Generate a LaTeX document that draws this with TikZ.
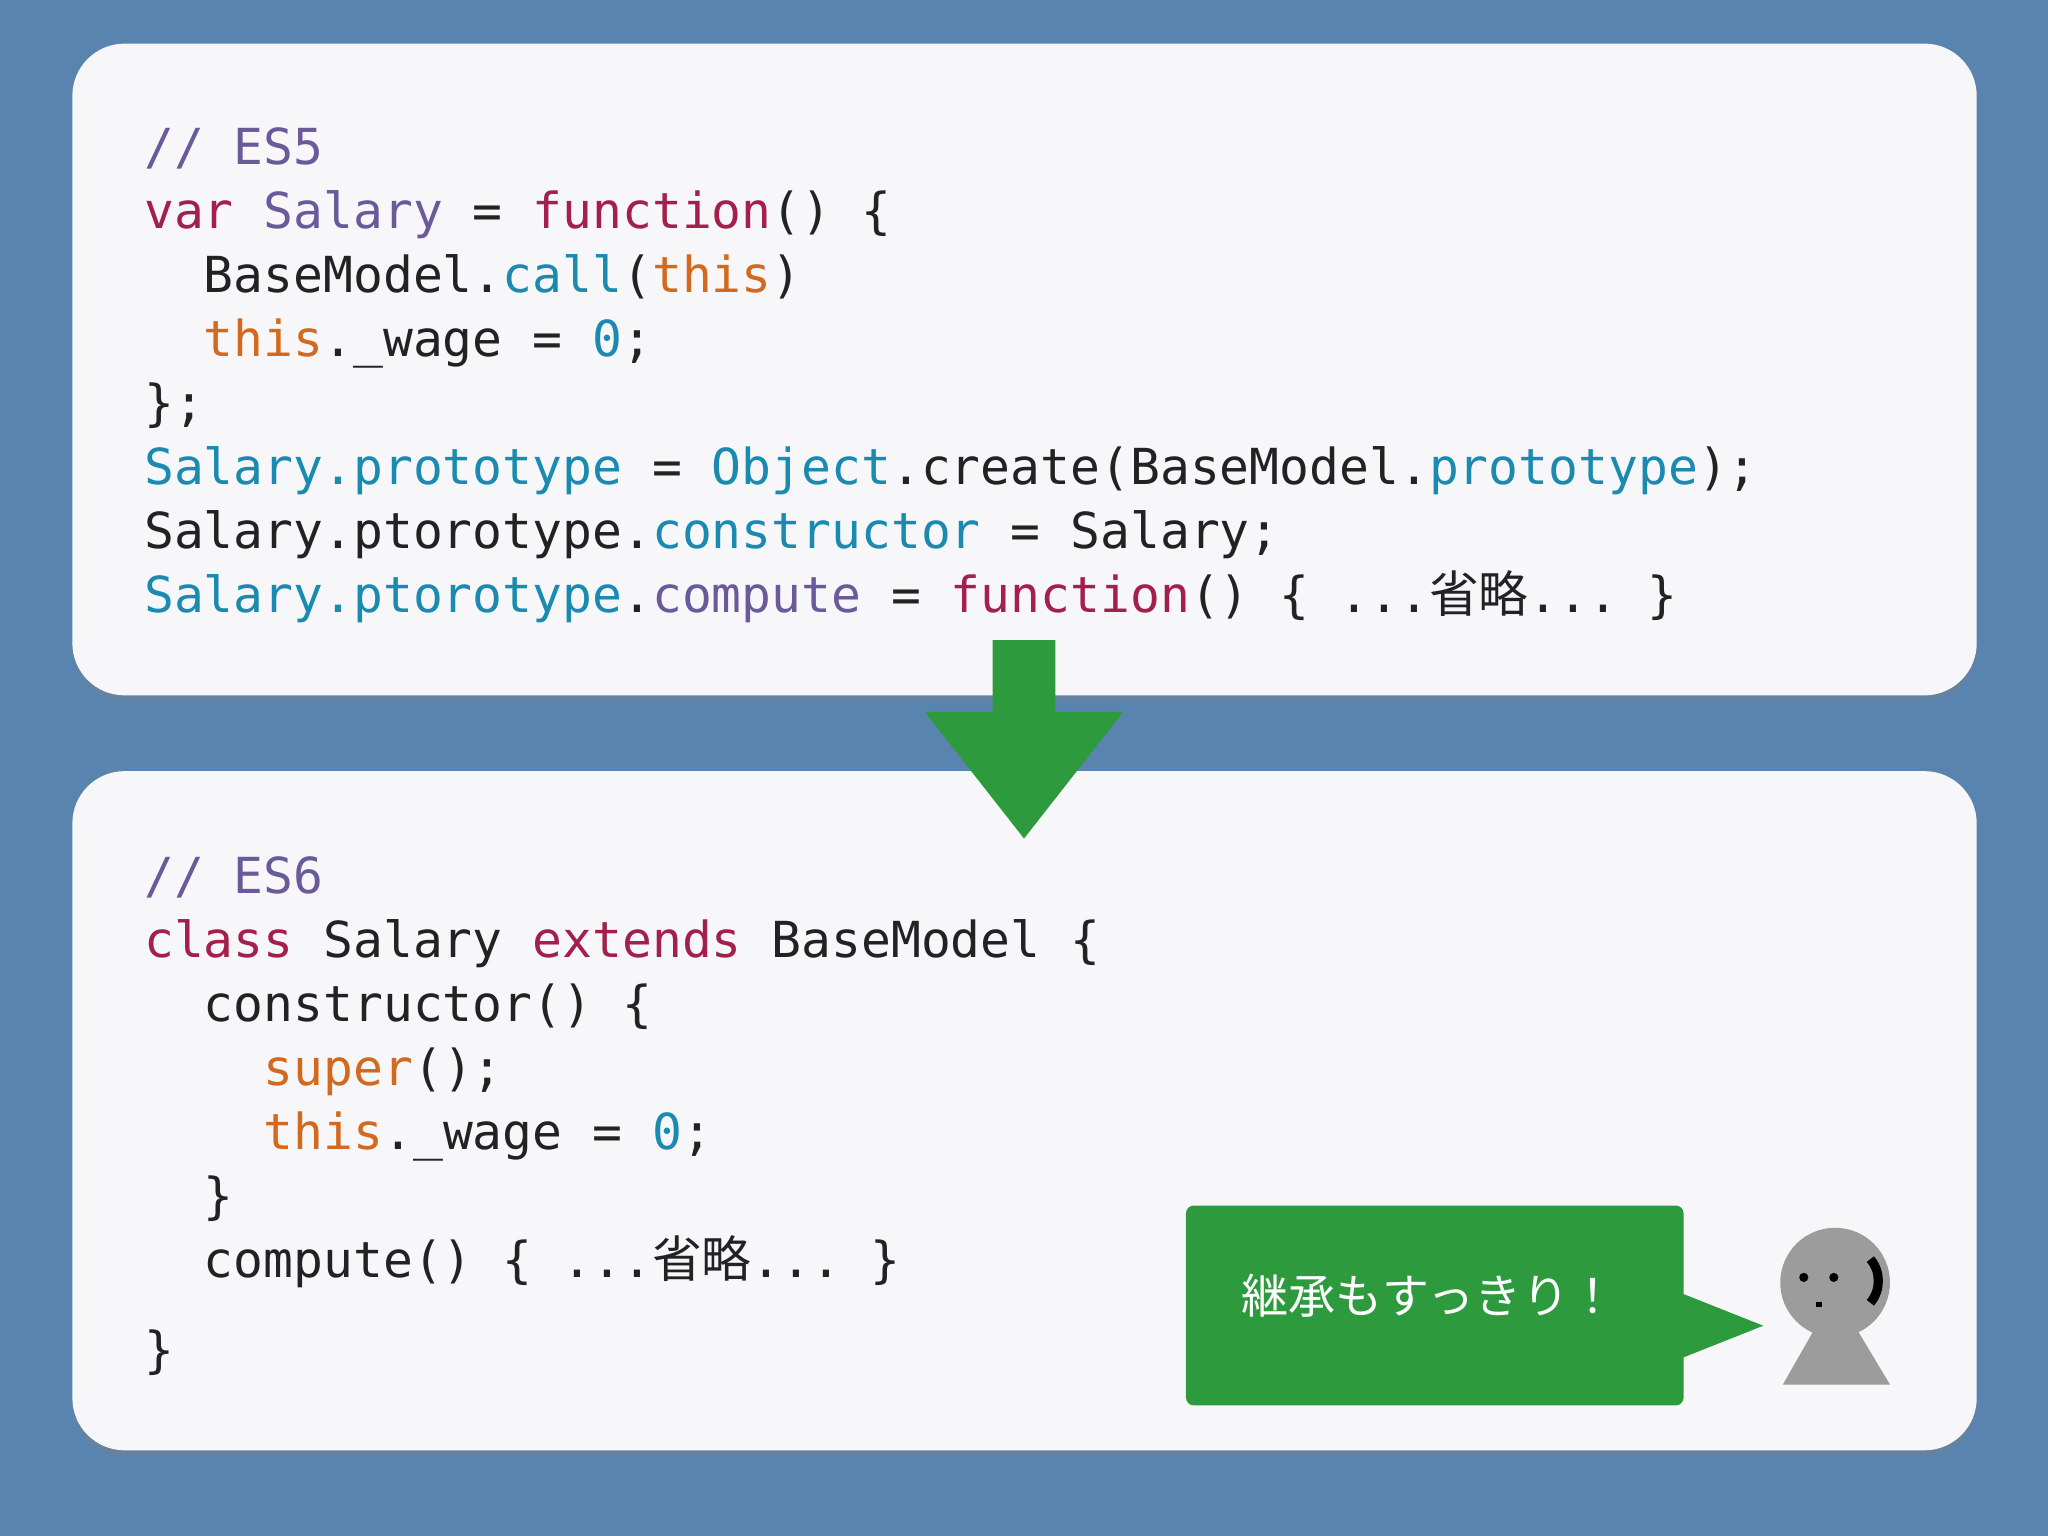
\documentclass[tikz,border=0pt]{standalone}
\usepackage{fontspec}
\setmonofont{DejaVu Sans Mono}
\newfontfamily\cjk{Noto Sans CJK JP}
\usetikzlibrary{shadows}
\definecolor{bg}{HTML}{5A84B0}
\definecolor{panel}{HTML}{F7F7F9}
\definecolor{cm}{HTML}{6A5A9A}
\definecolor{kw}{HTML}{A3204C}
\definecolor{bl}{HTML}{1A8AB0}
\definecolor{og}{HTML}{D2691E}
\definecolor{tx}{HTML}{222222}
\definecolor{gr}{HTML}{2E9A3E}
\definecolor{face}{HTML}{9C9C9C}
\newcommand{\C}[2]{\textcolor{#1}{#2}}
\newcommand{\ja}[1]{{\cjk #1}}
\begin{document}
\begin{tikzpicture}[x=0.5pt,y=-0.5pt,
  code/.style={anchor=base west,inner sep=0,font=\ttfamily\fontsize{19.0}{20}\selectfont,text=tx},
  pan/.style={fill=panel,rounded corners=20pt,drop shadow={shadow xshift=0pt,shadow yshift=-2pt,opacity=0.35}}]
\fill[bg] (0,0) rectangle (1568,1176);
\useasboundingbox (0,0) rectangle (1568,1176);
\node[pan,minimum width=729pt,minimum height=249.5pt,anchor=north west] (top) at (55,33) {};
\node[pan,minimum width=729pt,minimum height=260pt,anchor=north west] (bot) at (55,590) {};
\def\dy{14}
\node[code] (a1) at (110,112+\dy) {\C{cm}{// ES5}};
\node[code] (a2) at (110,161+\dy) {\C{kw}{var} \C{cm}{Salary} = \C{kw}{function}() \{};
\node[code] (a3) at (110,210+\dy) {\ \ BaseModel.\C{bl}{call}(\C{og}{this})};
\node[code] (a4) at (110,259+\dy) {\ \ \C{og}{this}.\_wage = \C{bl}{0};};
\node[code] (a5) at (110,308+\dy) {\};};
\node[code] (a6) at (110,357+\dy) {\C{bl}{Salary.prototype} = \C{bl}{Object}.create(BaseModel.\C{bl}{prototype});};
\node[code] (a7) at (110,406+\dy) {Salary.ptorotype.\C{bl}{constructor} = Salary;};
\node[code] (a8) at (110,455+\dy) {\C{bl}{Salary.ptorotype}.\C{cm}{compute} = \C{kw}{function}() \{ ...\ja{省略}... \}};
\node[code] (b1) at (110,670+\dy) {\C{cm}{// ES6}};
\node[code] (b2) at (110,719+\dy) {\C{kw}{class} Salary \C{kw}{extends} BaseModel \{};
\node[code] (b3) at (110,768+\dy) {\ \ constructor() \{};
\node[code] (b4) at (110,817+\dy) {\ \ \ \ \C{og}{super}();};
\node[code] (b5) at (110,866+\dy) {\ \ \ \ \C{og}{this}.\_wage = \C{bl}{0};};
\node[code] (b6) at (110,915+\dy) {\ \ \}};
\node[code] (b7) at (110,964+\dy) {\ \ compute() \{ ...\ja{省略}... \}};
\node[code] (b8) at (110,1033+\dy) {\}};
% arrow
\fill[gr] (760,490) -- (808,490) -- (808,545) -- (860,545) -- (784,642) -- (708,545) -- (760,545) -- cycle;
% bubble
\fill[gr,rounded corners=3pt] (908,923) rectangle (1289,1076);
\fill[gr] (1287,990) -- (1350,1015) -- (1287,1040) -- cycle;
\node[text=white,font=\cjk\fontsize{18}{20}\selectfont] (say) at (1094,992) {継承もすっきり！};
% person
\fill[face] (1365,1060) -- (1447,1060) -- (1405,990) -- cycle;
\fill[face] (1405,982) circle (42);
\fill[black] (1381,978) circle (3.5) (1404,978) circle (3.5);
\fill[black] (1390,997) rectangle (1395,1001);
\draw[black,line width=3.5pt] (1432,964) arc (-40:40:26);
\end{tikzpicture}
\end{document}
